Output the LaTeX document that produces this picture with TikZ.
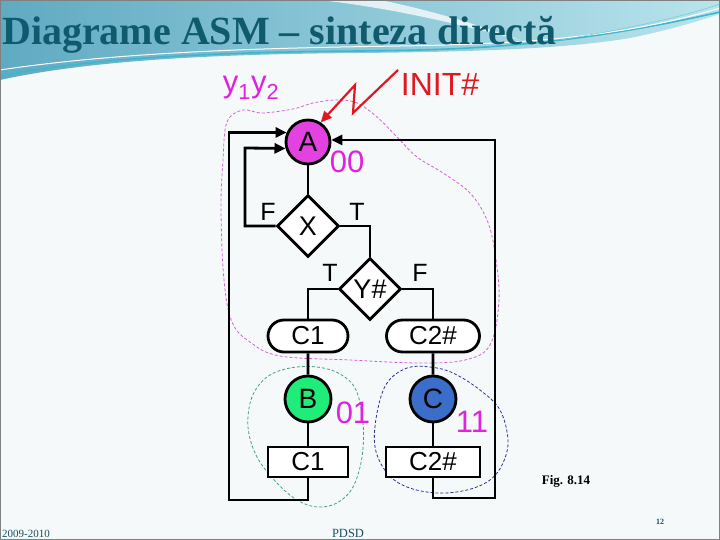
\documentclass[tikz,border=0pt]{standalone}
\usepackage{fontspec}
\setmainfont{Liberation Sans}
\newfontfamily\seriffont{Liberation Serif}
\usetikzlibrary{arrows.meta,shapes.geometric,shapes.misc}
\definecolor{bgc}{RGB}{246,249,249}
\definecolor{titlec}{RGB}{16,90,110}
\definecolor{footc}{RGB}{22,80,96}
\definecolor{hdrA}{RGB}{96,170,194}
\definecolor{hdrB}{RGB}{184,228,236}
\definecolor{hdrC}{RGB}{62,182,204}
\definecolor{magA}{RGB}{228,66,224}
\definecolor{magT}{RGB}{222,34,222}
\definecolor{magD}{RGB}{210,100,210}
\definecolor{grnA}{RGB}{32,236,122}
\definecolor{grnD}{RGB}{70,160,130}
\definecolor{bluA}{RGB}{58,110,200}
\definecolor{bluD}{RGB}{50,50,150}
\definecolor{redA}{RGB}{224,24,34}
\begin{document}
\begin{tikzpicture}[x=1pt,y=-1pt,
  ln/.style={line width=2.8pt,black},
  arr/.style={ln,-{Triangle[length=11pt,width=10pt]}},
  state/.style={circle,draw,line width=2.8pt,minimum size=44pt,inner sep=0pt,font=\fontsize{28}{28}\selectfont},
  dec/.style={diamond,draw,fill=white,line width=2.8pt,minimum width=62pt,minimum height=62pt,inner sep=0pt,font=\fontsize{27}{27}\selectfont},
  cond/.style={rounded rectangle,draw,fill=white,line width=2.8pt,minimum height=32pt,inner sep=0pt,font=\fontsize{26}{26}\selectfont},
  act/.style={rectangle,draw,fill=white,line width=2.8pt,minimum height=30pt,inner sep=0pt,font=\fontsize{26}{26}\selectfont},
  lbl/.style={inner sep=0pt,font=\fontsize{25}{25}\selectfont},
  code/.style={inner sep=0pt,text=magT,font=\fontsize{31}{31}\selectfont},
  contour/.style={line width=0.8pt,dash pattern=on 3pt off 2pt}
]
\useasboundingbox (0,0) rectangle (720,540);
% background
\fill[bgc] (0,0) rectangle (720,540);
% header
\shade[left color=hdrA,right color=hdrB] (0,0) -- (720,0) -- (720,14)
  .. controls (690,24) and (660,32) .. (630,38)
  .. controls (560,50) and (450,52) .. (360,53)
  .. controls (240,54) and (100,58) .. (0,80) -- cycle;
\fill[white,opacity=0.75] (320,0) .. controls (390,8) and (450,22) .. (520,40)
  .. controls (460,18) and (410,6) .. (380,0) -- cycle;
\draw[hdrC,line width=1.6pt] (0,76) .. controls (100,56) and (240,52) .. (360,51)
  .. controls (470,50) and (570,46) .. (720,12);
\draw[white,line width=1pt] (0,70) .. controls (120,52) and (260,48) .. (400,46)
  .. controls (520,44) and (620,38) .. (720,8);
\draw[hdrC!70,line width=0.6pt] (560,40) .. controls (620,30) and (680,18) .. (720,4);
% title
\node[anchor=base west,inner sep=0pt,text=titlec,font=\seriffont\bfseries\fontsize{40}{40}\selectfont] (title) at (2,45) {Diagrame ASM – sinteza directă};
% border
\draw[gray,line width=1pt] (0.5,0.5) rectangle (719.5,539.5);

% dashed contours
\draw[contour,magD] plot[smooth cycle,tension=0.6] coordinates {
  (223,160) (227,122) (243,110) (262,113) (293,109) (313,103) (337,100) (357,103)
  (377,117) (397,137) (417,157) (443,173) (470,193) (487,220) (495,253) (499,300)
  (490,345) (465,360) (420,363) (350,360) (280,356) (250,342) (232,322) (224,280) (221,210)};
\draw[contour,grnD] plot[smooth cycle,tension=0.6] coordinates {
  (290,368) (317,367) (340,374) (356,390) (363,423) (362,457) (353,487) (337,503)
  (317,507) (297,500) (277,483) (257,457) (248,427) (252,397) (267,377)};
\draw[contour,bluD] plot[smooth cycle,tension=0.6] coordinates {
  (407,368) (430,367) (453,373) (480,390) (500,410) (508,440) (503,463) (490,480)
  (467,490) (437,493) (407,487) (387,473) (375,447) (377,413) (387,383)};

% nodes
\node[state,fill=magA] (A) at (308,142) {A};
\node[dec] (X) at (308,226) {X};
\node[dec] (Y) at (370,289) {Y\#};
\node[cond,minimum width=80pt] (c1) at (308,336) {C1};
\node[cond,minimum width=93pt] (c2) at (433,336) {C2\#};
\node[state,fill=grnA,minimum size=46pt] (B) at (308,399) {B};
\node[state,fill=bluA,minimum size=46pt] (C) at (433,399) {C};
\node[act,minimum width=80pt] (d1) at (308,462) {C1};
\node[act,minimum width=94pt] (d2) at (433,462) {C2\#};

\coordinate (ll) at (229,500);
\coordinate (rr) at (495,498);
\coordinate (fl) at (245,148);

% connectors
\draw[ln] (A) -- (X);
\draw[ln] (X.east) -| (Y.north);
\draw[ln] (Y.west) -| (c1.north);
\draw[ln] (Y.east) -| (c2.north);
\draw[ln] (c1) -- (B);
\draw[ln] (B) -- (d1);
\draw[ln] (c2) -- (C);
\draw[ln] (C) -- (d2);
\draw[arr] (X.west) -| (fl) -- (A.196);
\draw[arr] (d1.south) |- (ll) |- (A.156);
\draw[arr] (d2.south) |- (rr) |- (A.5);

% INIT
\coordinate (z1) at (398,70);
\coordinate (z2) at (353,113);
\coordinate (z3) at (355,85);
\draw[redA,line width=2.2pt,-{Triangle[length=11pt,width=10pt]}] (z1) -- (z2) -- (z3) -- (A.57);
\node[inner sep=0pt,text=redA,font=\fontsize{32}{32}\selectfont] (init) at (440,84) {INIT\#};

% labels
\node[lbl] (lf1) at (268,212) {F};
\node[lbl] (lt1) at (357,212) {T};
\node[lbl] (lt2) at (330,273) {T};
\node[lbl] (lf2) at (420,273) {F};
\node[code] (k00) at (347,162) {00};
\node[code] (k01) at (353,413) {01};
\node[code] (k11) at (472,422) {11};
\node[code] (yy) at (251,88) {y\textsubscript{1}y\textsubscript{2}};

% captions
\node[anchor=center,inner sep=0pt,font=\seriffont\bfseries\fontsize{13}{13}\selectfont] (fig) at (566,481) {Fig. 8.14};
\node[anchor=base west,inner sep=0pt,text=footc,font=\seriffont\fontsize{11}{11}\selectfont] (yr) at (2,537) {2009-2010};
\node[anchor=base,inner sep=0pt,text=footc,font=\seriffont\fontsize{12.5}{12.5}\selectfont] (pdsd) at (348,537) {PDSD};
\node[anchor=base,inner sep=0pt,text=footc,font=\seriffont\bfseries\fontsize{8}{8}\selectfont] (pg) at (660,524) {12};
\end{tikzpicture}
\end{document}
